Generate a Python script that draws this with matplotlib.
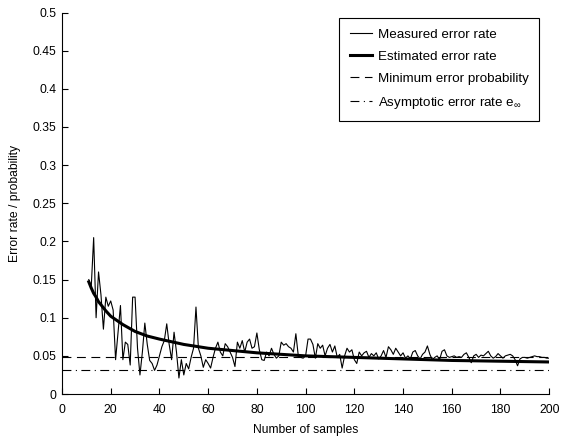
import numpy as np
import matplotlib
matplotlib.use("Agg")
import matplotlib.pyplot as plt
from matplotlib.lines import Line2D

plt.rcParams['font.family'] = ['Liberation Sans', 'DejaVu Sans']
plt.rcParams['mathtext.fontset'] = 'custom'
plt.rcParams['mathtext.rm'] = 'Liberation Sans'
plt.rcParams['mathtext.it'] = 'Liberation Sans'

# ---- data ----
measured_start = 11
measured = [
    0.150, 0.140, 0.205, 0.100, 0.160, 0.130, 0.085, 0.127, 0.115, 0.122,   # 11-20
    0.110, 0.045, 0.080, 0.116, 0.045, 0.068, 0.065, 0.038, 0.127, 0.127,   # 21-30
    0.060, 0.025, 0.055, 0.093, 0.065, 0.044, 0.040, 0.031, 0.038, 0.050,   # 31-40
    0.062, 0.070, 0.092, 0.065, 0.045, 0.081, 0.055, 0.021, 0.045, 0.025,   # 41-50
    0.040, 0.033, 0.048, 0.060, 0.114, 0.060, 0.050, 0.035, 0.045, 0.040,   # 51-60
    0.034, 0.048, 0.060, 0.068, 0.055, 0.050, 0.066, 0.062, 0.055, 0.048,   # 61-70
    0.036, 0.068, 0.060, 0.070, 0.055, 0.068, 0.072, 0.060, 0.062, 0.080,   # 71-80
    0.058, 0.045, 0.044, 0.055, 0.050, 0.060, 0.052, 0.047, 0.050, 0.068,   # 81-90
    0.064, 0.066, 0.062, 0.060, 0.055, 0.079, 0.050, 0.048, 0.047, 0.050,   # 91-100
    0.072, 0.072, 0.065, 0.047, 0.066, 0.060, 0.064, 0.050, 0.060, 0.065,   # 101-110
    0.055, 0.063, 0.048, 0.052, 0.034, 0.050, 0.060, 0.055, 0.058, 0.045,   # 111-120
    0.040, 0.055, 0.050, 0.054, 0.056, 0.048, 0.053, 0.050, 0.054, 0.046,   # 121-130
    0.050, 0.057, 0.048, 0.062, 0.058, 0.052, 0.060, 0.055, 0.050, 0.054,   # 131-140
    0.047, 0.050, 0.046, 0.055, 0.057, 0.050, 0.046, 0.052, 0.055, 0.063,   # 141-150
    0.052, 0.045, 0.048, 0.050, 0.045, 0.056, 0.058, 0.050, 0.048, 0.049,   # 151-160
    0.050, 0.048, 0.049, 0.048, 0.052, 0.054, 0.048, 0.041, 0.050, 0.052,   # 161-170
    0.048, 0.051, 0.050, 0.053, 0.056, 0.050, 0.047, 0.049, 0.053, 0.050,   # 171-180
    0.047, 0.050, 0.051, 0.052, 0.050, 0.045, 0.037, 0.046, 0.048, 0.048,   # 181-190
    0.047, 0.048, 0.049, 0.050, 0.049, 0.049, 0.048, 0.048, 0.047, 0.047,   # 191-200
]
estimated_n = [11, 12, 13, 14, 15, 16, 18, 20, 25, 30, 35, 40, 50, 60, 70, 80,
               90, 100, 120, 140, 160, 180, 200]
estimated = [0.147, 0.139, 0.132, 0.127, 0.121, 0.117, 0.109, 0.102, 0.091, 0.082,
             0.076, 0.072, 0.065, 0.060, 0.057, 0.054, 0.052, 0.050, 0.048, 0.046,
             0.044, 0.043, 0.042]
min_error_prob = 0.048
asymptotic_error = 0.031
x_range = [0, 200]
x_ticks = [0, 20, 40, 60, 80, 100, 120, 140, 160, 180, 200]
y_ticks = [0, 0.05, 0.1, 0.15, 0.2, 0.25, 0.3, 0.35, 0.4, 0.45, 0.5]
y_tick_labels = ['0', '0.05', '0.1', '0.15', '0.2', '0.25', '0.3', '0.35', '0.4', '0.45', '0.5']

# ---- figure ----
fig = plt.figure(figsize=(5.61, 4.4), dpi=100)
ax = fig.add_axes([0.1105, 0.1045, 0.8685, 0.867])

n = np.arange(measured_start, measured_start + len(measured))
ax.plot(n, measured, color='black', lw=0.8)
ax.plot(estimated_n, estimated, color='black', lw=2.2)
ax.plot(x_range, [min_error_prob] * 2, color='black', lw=0.8, ls=(0, (8, 5)))
ax.plot(x_range, [asymptotic_error] * 2, color='black', lw=0.8, ls=(0, (8, 4, 1, 4)))

ax.set_xlim(0, 200)
ax.set_ylim(0, 0.5)
ax.set_xticks(x_ticks)
ax.set_yticks(y_ticks)
ax.set_yticklabels(y_tick_labels)
for s in ['top', 'right']:
    ax.spines[s].set_visible(False)
for s in ['left', 'bottom']:
    ax.spines[s].set_linewidth(0.8)
ax.tick_params(direction='in', length=4, width=0.8, labelsize=8.7, colors='black', pad=4)
ax.tick_params(axis='x', pad=7)
ax.set_xlabel('Number of samples', fontsize=8.7, labelpad=6)
ax.set_ylabel('Error rate / probability', fontsize=8.7, labelpad=8)

handles = [
    Line2D([], [], color='black', lw=0.8),
    Line2D([], [], color='black', lw=2.2),
    Line2D([], [], color='black', lw=0.8, ls=(0, (8, 5))),
    Line2D([], [], color='black', lw=0.8, ls=(0, (8, 4, 1, 4))),
]
labels = ['Measured error rate', 'Estimated error rate',
          'Minimum error probability', 'Asymptotic error rate e$_\\infty$']
leg = fig.legend(handles, labels, loc='upper right', bbox_to_anchor=(0.961, 0.959),
                 fontsize=9.6, frameon=True, fancybox=False, edgecolor='black',
                 framealpha=1, handlelength=1.7, handletextpad=0.4, borderpad=0.8,
                 borderaxespad=0, labelspacing=0.72)
leg.get_frame().set_linewidth(0.8)

fig.savefig('out.png', dpi=100)
